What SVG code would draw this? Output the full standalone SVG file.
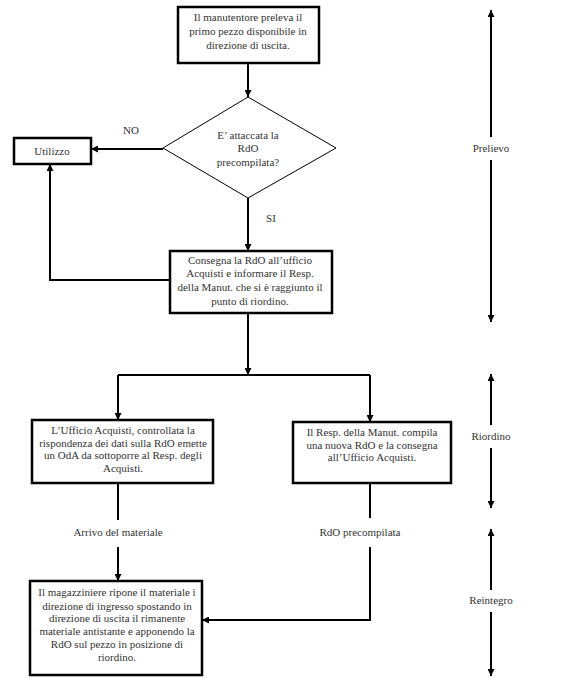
<svg xmlns="http://www.w3.org/2000/svg" width="578" height="687" viewBox="0 0 578 687">
<defs>
<marker id="ah" viewBox="0 0 10 10" refX="10" refY="5" markerWidth="7" markerHeight="7" markerUnits="userSpaceOnUse" orient="auto-start-reverse">
<path d="M0,0 L10,5 L0,10 z" fill="#000"/>
</marker>
</defs>
<style>
text{font-family:"Liberation Serif","DejaVu Serif",serif;font-size:11px;fill:#333;text-anchor:middle}
.box{fill:#fff;stroke:#000;stroke-width:2.5}
.dia{fill:#fff;stroke:#000;stroke-width:1}
.c{fill:none;stroke:#000;stroke-width:2}
.a{marker-end:url(#ah)}
.ph{fill:none;stroke:#000;stroke-width:2;marker-start:url(#ah);marker-end:url(#ah)}
</style>
<rect width="578" height="687" fill="#fff"/>
<g id="connectors">
<path class="c a" d="M248,63 L248,97"/>
<path class="c a" d="M163,149 L91,149"/>
<path class="c a" d="M248,198 L248,251"/>
<path class="c a" d="M170,280 L50,280 L50,164"/>
<path class="c a" d="M248,313 L248,375"/>
<path class="c" d="M118,375 L370,375"/>
<path class="c a" d="M118,375 L118,420"/>
<path class="c a" d="M370,375 L370,422"/>
<path class="c" d="M118,483 L118,520"/>
<path class="c a" d="M118,547 L118,581"/>
<path class="c" d="M370,483 L370,518"/>
<path class="c a" d="M370,547 L370,620 L202,620"/>
<text x="131" y="134">NO</text>
<text x="271" y="222">SI</text>
<text x="118" y="536">Arrivo del materiale</text>
<text x="360" y="536">RdO precompilata</text>
</g>
<g id="n1">
<rect class="box" x="178" y="7" width="141" height="56"/>
<text x="248" y="21">Il manutentore preleva il</text>
<text x="248" y="35">primo pezzo disponibile in</text>
<text x="248" y="49">direzione di uscita.</text>
</g>
<g id="n2">
<polygon class="dia" points="248,97 336,148 248,198 163,148"/>
<text x="248" y="139">E’ attaccata la</text>
<text x="248" y="152">RdO</text>
<text x="248" y="166">precompilata?</text>
</g>
<g id="n3">
<rect class="box" x="14" y="138" width="77" height="26"/>
<text x="52" y="155">Utilizzo</text>
</g>
<g id="n4">
<rect class="box" x="170" y="251" width="162" height="62"/>
<text x="250" y="264">Consegna la RdO all’ufficio</text>
<text x="250" y="277">Acquisti e informare il Resp.</text>
<text x="250" y="291">della Manut. che si è raggiunto il</text>
<text x="250" y="305">punto di riordino.</text>
</g>
<g id="n5">
<rect class="box" x="32" y="420" width="181" height="63"/>
<text x="123" y="434">L’Ufficio Acquisti, controllata la</text>
<text x="123" y="447">rispondenza dei dati sulla RdO emette</text>
<text x="123" y="459">un OdA da sottoporre al Resp. degli</text>
<text x="123" y="472">Acquisti.</text>
</g>
<g id="n6">
<rect class="box" x="293" y="422" width="158" height="61"/>
<text x="372" y="436">Il Resp. della Manut. compila</text>
<text x="372" y="449">una nuova RdO e la consegna</text>
<text x="372" y="461">all’Ufficio Acquisti.</text>
</g>
<g id="n7">
<rect class="box" x="30" y="581" width="172" height="94" stroke-width="3"/>
<text x="117" y="596">Il magazziniere ripone il materiale i</text>
<text x="117" y="610">direzione di ingresso spostando in</text>
<text x="117" y="622">direzione di uscita il rimanente</text>
<text x="117" y="635">materiale antistante e apponendo la</text>
<text x="117" y="648">RdO sul pezzo in posizione di</text>
<text x="117" y="661">riordino.</text>
</g>
<g id="phases">
<path class="ph" d="M491,10 L491,137 M491,160 L491,322"/>
<text x="491" y="152">Prelievo</text>
<path class="ph" d="M491,374 L491,425 M491,448 L491,508"/>
<text x="491" y="440">Riordino</text>
<path class="ph" d="M491,529 L491,590 M491,612 L491,676"/>
<text x="491" y="604">Reintegro</text>
</g>
</svg>
